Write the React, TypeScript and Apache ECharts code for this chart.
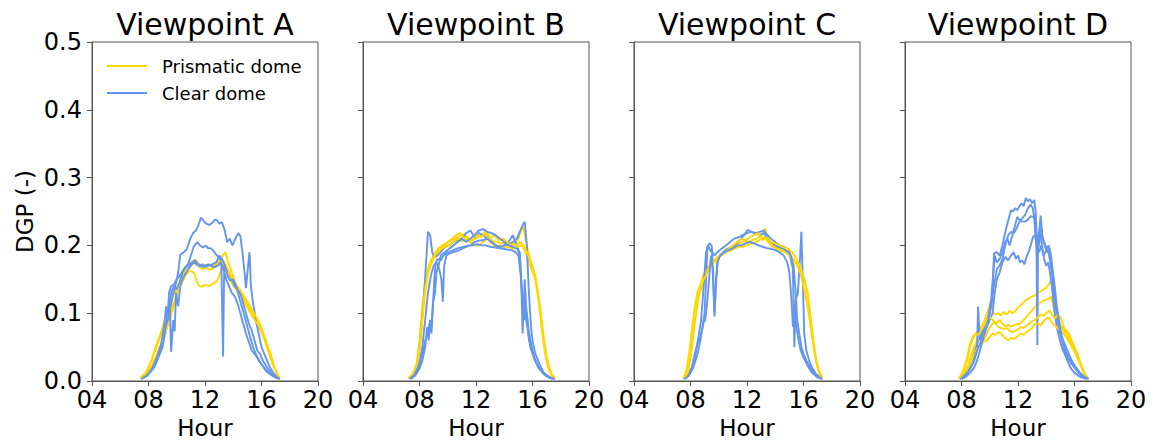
import React, { useEffect, useRef } from "react";
import * as echarts from "echarts";

type Pt = [number, number];

// ---- Panel titles and tick labels ----
const panelTitles = ["Viewpoint A", "Viewpoint B", "Viewpoint C", "Viewpoint D"];
const hourTicks = [4, 8, 12, 16, 20];
const dgpTicks = [0, 0.1, 0.2, 0.3, 0.4, 0.5];
const prismName = "Prismatic dome";
const clearName = "Clear dome";

// ---- Viewpoint A: [hour, DGP] ----
const aPrism1: Pt[] = [[7.4,0.004],[7.8,0.012],[8.2,0.03],[8.5,0.05],[8.9,0.072],[9.2,0.095],[9.5,0.112],[9.8,0.128],[10.1,0.141],[10.4,0.156],[10.7,0.17],[11.0,0.175],[11.3,0.179],[11.6,0.172],[11.9,0.17],[12.2,0.172],[12.5,0.168],[12.8,0.172],[13.05,0.178],[13.25,0.185],[13.45,0.19],[13.6,0.178],[13.9,0.16],[14.2,0.142],[14.5,0.13],[14.8,0.12],[15.1,0.108],[15.4,0.097],[15.7,0.085],[16.1,0.068],[16.35,0.055],[16.6,0.043],[16.85,0.025],[17.1,0.009],[17.3,0.004]];
const aPrism2: Pt[] = [[7.5,0.005],[7.9,0.015],[8.3,0.035],[8.7,0.058],[9.1,0.08],[9.4,0.095],[9.7,0.11],[10.0,0.128],[10.3,0.142],[10.6,0.155],[10.9,0.163],[11.2,0.16],[11.4,0.148],[11.6,0.14],[11.8,0.139],[12.0,0.142],[12.3,0.14],[12.6,0.144],[12.85,0.147],[13.05,0.158],[13.3,0.172],[13.5,0.162],[13.8,0.148],[14.1,0.138],[14.4,0.13],[14.7,0.12],[15.0,0.108],[15.3,0.097],[15.6,0.088],[15.9,0.078],[16.2,0.062],[16.5,0.042],[16.8,0.024],[17.1,0.01],[17.3,0.004]];
const aPrism3: Pt[] = [[7.5,0.004],[7.9,0.01],[8.3,0.025],[8.7,0.045],[9.1,0.065],[9.5,0.09],[9.8,0.112],[10.1,0.133],[10.4,0.15],[10.7,0.162],[11.0,0.17],[11.3,0.176],[11.5,0.17],[11.8,0.165],[12.1,0.167],[12.4,0.164],[12.7,0.168],[13.0,0.172],[13.3,0.178],[13.6,0.165],[13.9,0.152],[14.2,0.142],[14.5,0.134],[14.8,0.124],[15.1,0.114],[15.4,0.102],[15.7,0.092],[16.0,0.078],[16.3,0.06],[16.6,0.04],[16.9,0.02],[17.2,0.007]];
const aClear1: Pt[] = [[7.5,0.004],[7.9,0.01],[8.3,0.022],[8.7,0.04],[9.0,0.06],[9.3,0.08],[9.5,0.1],[9.7,0.125],[9.9,0.14],[10.1,0.16],[10.25,0.186],[10.5,0.19],[10.7,0.194],[10.96,0.21],[11.15,0.218],[11.35,0.222],[11.5,0.228],[11.72,0.241],[11.9,0.236],[12.1,0.232],[12.3,0.23],[12.5,0.233],[12.7,0.238],[12.85,0.237],[13.0,0.232],[13.2,0.234],[13.4,0.222],[13.56,0.205],[13.75,0.21],[13.95,0.2],[14.15,0.21],[14.35,0.218],[14.5,0.214],[14.65,0.19],[14.8,0.16],[14.9,0.137],[15.05,0.17],[15.15,0.19],[15.25,0.14],[15.4,0.115],[15.6,0.09],[15.8,0.07],[16.0,0.05],[16.3,0.035],[16.6,0.02],[16.9,0.01],[17.2,0.004]];
const aClear2: Pt[] = [[7.5,0.004],[7.9,0.008],[8.3,0.018],[8.6,0.03],[8.9,0.05],[9.2,0.07],[9.4,0.1],[9.6,0.13],[9.8,0.14],[10.0,0.135],[10.2,0.145],[10.4,0.16],[10.6,0.168],[10.8,0.172],[11.0,0.185],[11.2,0.198],[11.45,0.205],[11.65,0.2],[11.85,0.197],[12.05,0.2],[12.2,0.196],[12.4,0.196],[12.6,0.192],[12.8,0.186],[13.0,0.182],[13.15,0.178],[13.28,0.036],[13.36,0.17],[13.5,0.165],[13.7,0.16],[13.9,0.15],[14.1,0.14],[14.3,0.135],[14.5,0.13],[14.7,0.115],[14.9,0.1],[15.1,0.085],[15.3,0.075],[15.5,0.06],[15.7,0.045],[15.9,0.04],[16.1,0.03],[16.4,0.02],[16.7,0.012],[17.0,0.006],[17.3,0.003]];
const aClear3: Pt[] = [[7.6,0.004],[8.0,0.01],[8.4,0.02],[8.7,0.035],[9.0,0.05],[9.2,0.08],[9.4,0.1],[9.5,0.12],[9.6,0.043],[9.75,0.09],[9.85,0.073],[9.95,0.13],[10.1,0.11],[10.25,0.14],[10.4,0.15],[10.6,0.158],[10.8,0.165],[11.0,0.17],[11.2,0.175],[11.4,0.172],[11.6,0.17],[11.8,0.172],[12.0,0.17],[12.3,0.172],[12.6,0.168],[12.9,0.17],[13.1,0.175],[13.3,0.165],[13.5,0.15],[13.7,0.14],[13.9,0.13],[14.1,0.125],[14.3,0.115],[14.5,0.1],[14.7,0.085],[14.9,0.07],[15.1,0.058],[15.3,0.045],[15.5,0.04],[15.7,0.035],[16.0,0.025],[16.3,0.015],[16.6,0.01],[17.0,0.005],[17.3,0.003]];
const aClear4: Pt[] = [[7.5,0.003],[7.9,0.008],[8.3,0.02],[8.6,0.035],[8.9,0.055],[9.1,0.08],[9.25,0.11],[9.35,0.09],[9.45,0.13],[9.6,0.14],[9.8,0.142],[10.0,0.15],[10.2,0.155],[10.5,0.165],[10.8,0.17],[11.1,0.175],[11.3,0.178],[11.6,0.17],[11.9,0.168],[12.2,0.17],[12.5,0.172],[12.8,0.175],[13.0,0.185],[13.2,0.18],[13.4,0.17],[13.6,0.155],[13.8,0.148],[14.0,0.15],[14.2,0.14],[14.4,0.125],[14.6,0.11],[14.8,0.095],[15.0,0.08],[15.2,0.065],[15.4,0.05],[15.6,0.04],[15.8,0.03],[16.1,0.022],[16.4,0.015],[16.8,0.008],[17.2,0.004]];

// ---- Viewpoint B ----
const bPrism1: Pt[] = [[7.2,0.004],[7.5,0.01],[7.8,0.025],[8.0,0.06],[8.2,0.11],[8.4,0.145],[8.6,0.165],[8.8,0.178],[9.0,0.185],[9.3,0.195],[9.6,0.2],[9.9,0.203],[10.2,0.207],[10.5,0.21],[10.8,0.213],[11.1,0.216],[11.4,0.212],[11.7,0.208],[12.0,0.21],[12.3,0.214],[12.6,0.218],[12.9,0.212],[13.2,0.206],[13.5,0.205],[13.8,0.203],[14.1,0.205],[14.4,0.2],[14.7,0.203],[15.0,0.21],[15.2,0.222],[15.35,0.228],[15.5,0.21],[15.7,0.19],[15.9,0.175],[16.1,0.16],[16.3,0.14],[16.5,0.11],[16.7,0.07],[16.9,0.04],[17.1,0.02],[17.3,0.01],[17.5,0.004]];
const bPrism2: Pt[] = [[7.3,0.004],[7.6,0.012],[7.9,0.03],[8.1,0.07],[8.3,0.12],[8.5,0.15],[8.7,0.168],[8.9,0.18],[9.2,0.19],[9.5,0.195],[9.8,0.198],[10.1,0.2],[10.4,0.205],[10.7,0.21],[11.0,0.206],[11.3,0.212],[11.6,0.205],[11.9,0.2],[12.2,0.2],[12.5,0.205],[12.8,0.21],[13.1,0.203],[13.4,0.198],[13.7,0.2],[14.0,0.197],[14.3,0.198],[14.6,0.195],[14.9,0.198],[15.2,0.2],[15.4,0.195],[15.6,0.185],[15.8,0.172],[16.0,0.162],[16.2,0.15],[16.4,0.125],[16.6,0.09],[16.8,0.055],[17.0,0.03],[17.2,0.015],[17.5,0.005]];
const bPrism3: Pt[] = [[7.3,0.004],[7.7,0.015],[8.0,0.045],[8.2,0.09],[8.4,0.13],[8.6,0.158],[8.8,0.172],[9.1,0.185],[9.4,0.192],[9.7,0.198],[10.0,0.205],[10.3,0.21],[10.6,0.215],[10.9,0.218],[11.2,0.21],[11.5,0.205],[11.8,0.212],[12.1,0.216],[12.4,0.212],[12.7,0.222],[13.0,0.21],[13.3,0.215],[13.6,0.208],[13.9,0.21],[14.2,0.205],[14.5,0.2],[14.8,0.2],[15.1,0.205],[15.4,0.2],[15.6,0.19],[15.8,0.18],[16.0,0.168],[16.2,0.155],[16.4,0.13],[16.6,0.1],[16.8,0.065],[17.0,0.035],[17.3,0.012],[17.6,0.004]];
const bClear1: Pt[] = [[7.3,0.004],[7.6,0.01],[7.9,0.03],[8.1,0.07],[8.3,0.12],[8.45,0.17],[8.6,0.22],[8.75,0.215],[8.9,0.19],[9.05,0.182],[9.25,0.185],[9.5,0.19],[9.8,0.198],[10.1,0.2],[10.4,0.205],[10.7,0.208],[11.0,0.21],[11.3,0.218],[11.6,0.222],[11.9,0.212],[12.2,0.218],[12.5,0.215],[12.8,0.21],[13.1,0.205],[13.4,0.2],[13.7,0.198],[14.0,0.2],[14.3,0.205],[14.6,0.215],[14.9,0.2],[15.1,0.185],[15.25,0.13],[15.35,0.095],[15.45,0.15],[15.55,0.11],[15.7,0.08],[15.85,0.06],[16.0,0.045],[16.2,0.03],[16.5,0.018],[16.9,0.01],[17.3,0.005]];
const bClear2: Pt[] = [[7.4,0.004],[7.7,0.01],[8.0,0.025],[8.2,0.05],[8.4,0.09],[8.6,0.13],[8.8,0.155],[9.0,0.17],[9.2,0.175],[9.4,0.165],[9.55,0.15],[9.65,0.117],[9.75,0.17],[9.9,0.185],[10.1,0.188],[10.4,0.19],[10.7,0.192],[11.0,0.195],[11.3,0.198],[11.6,0.2],[11.9,0.205],[12.2,0.207],[12.5,0.208],[12.8,0.21],[13.1,0.205],[13.4,0.2],[13.7,0.198],[14.0,0.2],[14.3,0.202],[14.6,0.205],[14.9,0.21],[15.1,0.22],[15.3,0.23],[15.45,0.235],[15.6,0.2],[15.7,0.15],[15.8,0.11],[15.9,0.08],[16.0,0.06],[16.2,0.04],[16.5,0.025],[16.8,0.012],[17.2,0.005],[17.6,0.003]];
const bClear3: Pt[] = [[7.4,0.003],[7.7,0.008],[8.0,0.018],[8.2,0.03],[8.4,0.05],[8.55,0.08],[8.65,0.06],[8.75,0.09],[8.85,0.07],[8.95,0.11],[9.05,0.15],[9.15,0.175],[9.3,0.18],[9.5,0.178],[9.7,0.185],[10.0,0.19],[10.3,0.192],[10.6,0.195],[10.9,0.197],[11.2,0.198],[11.5,0.2],[11.8,0.2],[12.1,0.202],[12.4,0.2],[12.7,0.2],[13.0,0.198],[13.3,0.197],[13.6,0.196],[13.9,0.195],[14.2,0.194],[14.5,0.193],[14.8,0.19],[15.0,0.185],[15.15,0.16],[15.3,0.12],[15.45,0.09],[15.6,0.1],[15.75,0.06],[15.9,0.05],[16.1,0.035],[16.4,0.02],[16.8,0.01],[17.2,0.005],[17.5,0.003]];
const bClear4: Pt[] = [[7.3,0.003],[7.6,0.008],[7.9,0.02],[8.2,0.04],[8.4,0.06],[8.6,0.07],[8.75,0.09],[8.85,0.08],[8.95,0.115],[9.1,0.13],[9.2,0.16],[9.35,0.17],[9.5,0.185],[9.8,0.19],[10.1,0.195],[10.4,0.2],[10.7,0.205],[11.0,0.21],[11.3,0.205],[11.6,0.21],[11.9,0.215],[12.2,0.222],[12.5,0.224],[12.8,0.22],[13.1,0.218],[13.4,0.215],[13.7,0.21],[14.0,0.205],[14.3,0.2],[14.6,0.198],[14.9,0.195],[15.1,0.19],[15.2,0.15],[15.3,0.07],[15.4,0.12],[15.55,0.09],[15.7,0.07],[15.85,0.05],[16.0,0.04],[16.3,0.025],[16.6,0.015],[17.0,0.007],[17.4,0.003]];

// ---- Viewpoint C ----
const cPrism1: Pt[] = [[7.5,0.004],[7.7,0.015],[7.9,0.04],[8.1,0.075],[8.3,0.11],[8.5,0.132],[8.7,0.142],[8.9,0.155],[9.1,0.165],[9.4,0.172],[9.7,0.178],[10.0,0.184],[10.3,0.188],[10.6,0.193],[10.9,0.197],[11.2,0.2],[11.5,0.203],[11.8,0.207],[12.1,0.205],[12.4,0.208],[12.7,0.21],[13.0,0.215],[13.2,0.22],[13.3,0.225],[13.45,0.21],[13.7,0.2],[14.0,0.198],[14.3,0.196],[14.6,0.193],[14.9,0.19],[15.2,0.182],[15.5,0.174],[15.7,0.165],[15.9,0.155],[16.1,0.145],[16.3,0.13],[16.5,0.095],[16.7,0.06],[16.9,0.03],[17.1,0.015],[17.35,0.004]];
const cPrism2: Pt[] = [[7.5,0.004],[7.75,0.012],[8.0,0.035],[8.2,0.07],[8.4,0.1],[8.6,0.125],[8.8,0.14],[9.0,0.155],[9.3,0.168],[9.6,0.175],[9.9,0.182],[10.2,0.185],[10.5,0.19],[10.8,0.192],[11.1,0.195],[11.4,0.198],[11.7,0.198],[12.0,0.2],[12.3,0.202],[12.6,0.205],[12.9,0.208],[13.2,0.212],[13.5,0.205],[13.8,0.198],[14.1,0.195],[14.4,0.192],[14.7,0.19],[15.0,0.185],[15.3,0.178],[15.6,0.168],[15.8,0.158],[16.0,0.14],[16.2,0.12],[16.4,0.095],[16.6,0.065],[16.8,0.04],[17.0,0.02],[17.25,0.006]];
const cPrism3: Pt[] = [[7.6,0.004],[7.85,0.015],[8.1,0.05],[8.3,0.09],[8.5,0.12],[8.7,0.135],[8.9,0.148],[9.2,0.16],[9.5,0.17],[9.8,0.178],[10.1,0.185],[10.4,0.19],[10.7,0.195],[11.0,0.2],[11.3,0.205],[11.6,0.21],[11.9,0.207],[12.2,0.212],[12.5,0.215],[12.8,0.218],[13.1,0.208],[13.4,0.212],[13.7,0.205],[14.0,0.203],[14.3,0.2],[14.6,0.197],[14.9,0.195],[15.2,0.19],[15.5,0.18],[15.7,0.172],[15.9,0.16],[16.1,0.148],[16.3,0.125],[16.5,0.09],[16.7,0.055],[16.9,0.028],[17.1,0.012],[17.35,0.004]];
const cClear1: Pt[] = [[7.5,0.003],[7.8,0.008],[8.1,0.02],[8.3,0.04],[8.5,0.055],[8.7,0.065],[8.85,0.08],[9.0,0.1],[9.1,0.15],[9.2,0.198],[9.35,0.203],[9.5,0.2],[9.6,0.16],[9.7,0.095],[9.8,0.15],[9.95,0.18],[10.1,0.185],[10.3,0.19],[10.6,0.195],[10.9,0.198],[11.2,0.202],[11.5,0.208],[11.8,0.215],[12.05,0.223],[12.3,0.22],[12.6,0.218],[12.9,0.215],[13.2,0.218],[13.4,0.212],[13.7,0.205],[14.0,0.2],[14.3,0.197],[14.6,0.195],[14.9,0.19],[15.1,0.18],[15.25,0.165],[15.35,0.05],[15.45,0.12],[15.6,0.13],[15.75,0.18],[15.85,0.22],[15.95,0.15],[16.05,0.07],[16.2,0.045],[16.4,0.03],[16.6,0.02],[16.9,0.01],[17.3,0.004]];
const cClear2: Pt[] = [[7.6,0.003],[7.9,0.01],[8.2,0.025],[8.4,0.045],[8.6,0.07],[8.75,0.09],[8.9,0.13],[9.0,0.16],[9.1,0.19],[9.25,0.2],[9.4,0.192],[9.55,0.19],[9.7,0.185],[9.9,0.19],[10.2,0.195],[10.5,0.2],[10.8,0.205],[11.1,0.21],[11.4,0.212],[11.7,0.215],[12.0,0.218],[12.3,0.22],[12.6,0.218],[12.9,0.22],[13.2,0.222],[13.45,0.215],[13.7,0.21],[14.0,0.205],[14.3,0.2],[14.6,0.198],[14.9,0.195],[15.1,0.185],[15.3,0.17],[15.45,0.13],[15.55,0.09],[15.7,0.07],[15.85,0.05],[16.0,0.04],[16.2,0.03],[16.5,0.02],[16.8,0.01],[17.2,0.004]];
const cClear3: Pt[] = [[7.6,0.003],[7.9,0.008],[8.2,0.02],[8.5,0.04],[8.7,0.06],[8.9,0.085],[9.05,0.09],[9.2,0.12],[9.35,0.16],[9.45,0.185],[9.55,0.17],[9.7,0.1],[9.8,0.14],[9.9,0.175],[10.1,0.185],[10.4,0.19],[10.7,0.193],[11.0,0.196],[11.3,0.2],[11.6,0.2],[11.9,0.203],[12.2,0.205],[12.5,0.203],[12.8,0.2],[13.1,0.198],[13.4,0.196],[13.7,0.195],[14.0,0.193],[14.3,0.19],[14.6,0.185],[14.85,0.175],[15.0,0.16],[15.15,0.12],[15.25,0.08],[15.35,0.11],[15.5,0.08],[15.65,0.06],[15.8,0.045],[16.0,0.035],[16.3,0.022],[16.6,0.012],[17.0,0.005],[17.35,0.003]];

// ---- Viewpoint D ----
const dPrism1: Pt[] = [[7.85,0.004],[8.1,0.015],[8.4,0.03],[8.6,0.05],[8.8,0.062],[9.0,0.07],[9.2,0.075],[9.4,0.08],[9.6,0.088],[9.8,0.1],[10.0,0.112],[10.1,0.119],[10.25,0.1],[10.4,0.098],[10.6,0.1],[10.8,0.097],[11.0,0.102],[11.2,0.098],[11.4,0.104],[11.6,0.1],[11.8,0.103],[12.0,0.108],[12.2,0.112],[12.4,0.116],[12.6,0.12],[12.8,0.122],[13.0,0.125],[13.2,0.126],[13.4,0.13],[13.6,0.132],[13.8,0.135],[14.0,0.138],[14.2,0.143],[14.36,0.149],[14.5,0.13],[14.65,0.105],[14.8,0.088],[15.0,0.082],[15.2,0.078],[15.4,0.075],[15.6,0.07],[15.8,0.06],[16.0,0.05],[16.2,0.04],[16.4,0.028],[16.6,0.016],[16.8,0.008],[17.0,0.003]];
const dPrism2: Pt[] = [[7.9,0.003],[8.2,0.012],[8.5,0.025],[8.7,0.04],[8.9,0.05],[9.1,0.06],[9.3,0.062],[9.5,0.06],[9.7,0.065],[9.9,0.075],[10.1,0.082],[10.3,0.088],[10.5,0.085],[10.7,0.09],[10.9,0.085],[11.1,0.08],[11.3,0.083],[11.5,0.08],[11.7,0.082],[11.9,0.084],[12.1,0.084],[12.3,0.088],[12.5,0.092],[12.7,0.097],[12.9,0.102],[13.2,0.109],[13.4,0.112],[13.6,0.116],[13.8,0.118],[14.0,0.12],[14.2,0.122],[14.36,0.124],[14.5,0.11],[14.7,0.095],[14.9,0.085],[15.1,0.078],[15.3,0.072],[15.5,0.068],[15.7,0.06],[15.9,0.05],[16.1,0.04],[16.3,0.03],[16.5,0.02],[16.7,0.01],[16.9,0.004]];
const dPrism3: Pt[] = [[7.9,0.003],[8.2,0.01],[8.5,0.02],[8.8,0.035],[9.0,0.045],[9.2,0.05],[9.4,0.055],[9.6,0.058],[9.8,0.06],[10.0,0.065],[10.2,0.07],[10.4,0.068],[10.6,0.072],[10.8,0.07],[11.0,0.065],[11.3,0.06],[11.5,0.064],[11.7,0.062],[11.9,0.065],[12.2,0.07],[12.4,0.068],[12.6,0.072],[12.8,0.075],[13.0,0.078],[13.2,0.084],[13.4,0.085],[13.6,0.082],[13.8,0.088],[14.1,0.094],[14.3,0.09],[14.5,0.084],[14.7,0.08],[14.9,0.076],[15.1,0.072],[15.4,0.065],[15.6,0.058],[15.8,0.05],[16.1,0.04],[16.3,0.03],[16.5,0.02],[16.7,0.01],[16.9,0.003]];
const dPrism4: Pt[] = [[7.8,0.003],[8.1,0.012],[8.4,0.035],[8.6,0.055],[8.8,0.065],[9.0,0.07],[9.2,0.068],[9.4,0.075],[9.6,0.082],[9.8,0.09],[10.0,0.095],[10.2,0.09],[10.4,0.085],[10.6,0.08],[10.8,0.078],[11.0,0.076],[11.2,0.078],[11.4,0.074],[11.6,0.072],[11.8,0.074],[12.0,0.076],[12.2,0.08],[12.4,0.078],[12.6,0.082],[12.8,0.085],[13.0,0.088],[13.2,0.09],[13.4,0.094],[13.6,0.098],[13.8,0.096],[14.0,0.1],[14.2,0.104],[14.4,0.098],[14.6,0.092],[14.8,0.098],[15.0,0.094],[15.2,0.082],[15.4,0.07],[15.6,0.062],[15.8,0.055],[16.0,0.048],[16.2,0.04],[16.4,0.028],[16.6,0.016],[16.8,0.006],[17.0,0.003]];
const dClear1: Pt[] = [[7.9,0.004],[8.2,0.01],[8.5,0.02],[8.8,0.035],[9.0,0.05],[9.2,0.06],[9.4,0.07],[9.6,0.08],[9.8,0.09],[10.0,0.1],[10.2,0.13],[10.3,0.188],[10.5,0.19],[10.7,0.185],[10.9,0.2],[11.05,0.215],[11.2,0.228],[11.35,0.24],[11.5,0.252],[11.65,0.25],[11.8,0.255],[11.95,0.252],[12.1,0.258],[12.25,0.262],[12.4,0.258],[12.55,0.27],[12.7,0.265],[12.85,0.268],[13.0,0.262],[13.15,0.267],[13.25,0.25],[13.35,0.2],[13.5,0.22],[13.6,0.244],[13.75,0.21],[13.9,0.2],[14.05,0.19],[14.2,0.195],[14.35,0.17],[14.5,0.15],[14.65,0.115],[14.8,0.09],[14.95,0.075],[15.1,0.06],[15.3,0.045],[15.5,0.035],[15.8,0.025],[16.1,0.018],[16.4,0.01],[16.7,0.005],[16.9,0.003]];
const dClear2: Pt[] = [[8.0,0.003],[8.3,0.008],[8.6,0.018],[8.9,0.03],[9.1,0.045],[9.17,0.11],[9.3,0.06],[9.5,0.07],[9.7,0.085],[9.9,0.095],[10.1,0.12],[10.25,0.16],[10.35,0.185],[10.5,0.175],[10.7,0.18],[10.9,0.19],[11.1,0.205],[11.25,0.21],[11.4,0.2],[11.6,0.215],[11.8,0.23],[11.95,0.242],[12.1,0.238],[12.3,0.235],[12.5,0.235],[12.7,0.238],[12.9,0.243],[13.1,0.242],[13.25,0.235],[13.32,0.18],[13.37,0.053],[13.42,0.2],[13.55,0.225],[13.7,0.2],[13.85,0.18],[14.0,0.17],[14.15,0.175],[14.3,0.155],[14.45,0.13],[14.6,0.1],[14.75,0.08],[14.9,0.065],[15.1,0.05],[15.4,0.035],[15.7,0.02],[16.0,0.012],[16.4,0.006],[16.8,0.003]];
const dClear3: Pt[] = [[7.9,0.003],[8.2,0.008],[8.5,0.015],[8.8,0.025],[9.0,0.04],[9.2,0.05],[9.4,0.06],[9.6,0.068],[9.8,0.08],[10.0,0.09],[10.2,0.1],[10.35,0.13],[10.5,0.15],[10.7,0.16],[10.9,0.175],[11.1,0.183],[11.3,0.178],[11.5,0.185],[11.7,0.19],[11.85,0.18],[12.0,0.185],[12.15,0.175],[12.3,0.178],[12.45,0.172],[12.6,0.183],[12.75,0.19],[12.9,0.2],[13.05,0.212],[13.2,0.215],[13.35,0.2],[13.5,0.19],[13.65,0.2],[13.8,0.185],[13.95,0.19],[14.1,0.195],[14.25,0.18],[14.4,0.16],[14.55,0.13],[14.7,0.105],[14.85,0.085],[15.0,0.07],[15.2,0.055],[15.4,0.042],[15.7,0.03],[16.0,0.02],[16.3,0.012],[16.6,0.006],[16.9,0.003]];
const dClear4: Pt[] = [[8.0,0.003],[8.3,0.006],[8.6,0.012],[8.9,0.02],[9.1,0.03],[9.3,0.045],[9.5,0.06],[9.7,0.075],[9.9,0.09],[10.1,0.11],[10.3,0.14],[10.5,0.165],[10.7,0.17],[10.9,0.18],[11.1,0.2],[11.3,0.215],[11.5,0.22],[11.7,0.218],[11.9,0.225],[12.1,0.235],[12.3,0.24],[12.5,0.245],[12.7,0.255],[12.9,0.26],[13.05,0.255],[13.15,0.24],[13.25,0.21],[13.4,0.19],[13.55,0.21],[13.7,0.215],[13.85,0.205],[14.0,0.195],[14.15,0.2],[14.3,0.19],[14.45,0.165],[14.6,0.14],[14.75,0.11],[14.9,0.09],[15.05,0.07],[15.2,0.06],[15.4,0.05],[15.6,0.04],[15.8,0.03],[16.1,0.02],[16.4,0.012],[16.7,0.006],[17.0,0.003]];

const panelPrism: Pt[][][] = [
  [aPrism1, aPrism2, aPrism3],
  [bPrism1, bPrism2, bPrism3],
  [cPrism1, cPrism2, cPrism3],
  [dPrism1, dPrism2, dPrism3, dPrism4],
];
const panelClear: Pt[][][] = [
  [aClear1, aClear2, aClear3, aClear4],
  [bClear1, bClear2, bClear3, bClear4],
  [cClear1, cClear2, cClear3],
  [dClear1, dClear2, dClear3, dClear4],
];

const GOLD = "#ffd700";
const BLUE = "#6495ed";
const FONT = "DejaVu Sans";
const SPINE = "#555555";

const PANEL_LEFT = [92, 363, 634, 905];
const PANEL_W = 226;
const PANEL_TOP = 42;
const PANEL_H = 339;

function buildOption(): echarts.EChartsCoreOption {
  // Fixed panel rectangles; outerBoundsMode "none" stops the grid from shrinking to fit axis names
  const grid = PANEL_LEFT.map((left) => ({
    left,
    top: PANEL_TOP,
    width: PANEL_W,
    height: PANEL_H,
    outerBoundsMode: "none",
    containLabel: false,
    show: true,
    borderColor: SPINE,
    borderWidth: 1,
    backgroundColor: "transparent",
  }));

  const xAxis = PANEL_LEFT.map((_, i) => ({
    type: "value",
    gridIndex: i,
    min: hourTicks[0],
    max: hourTicks[hourTicks.length - 1],
    interval: hourTicks[1] - hourTicks[0],
    name: "Hour",
    nameLocation: "middle",
    nameGap: 33,
    nameTextStyle: { fontFamily: FONT, fontSize: 23, lineHeight: 22, color: "#000" },
    axisLine: { show: true, lineStyle: { color: SPINE, width: 1 } },
    axisTick: { show: true, length: 5, lineStyle: { color: SPINE } },
    axisLabel: {
      margin: 7,
      fontFamily: FONT,
      fontSize: 24,
      color: "#000",
      formatter: (v: number) => String(v).padStart(2, "0"),
    },
    splitLine: { show: false },
  }));

  const yAxis = PANEL_LEFT.map((_, i) => ({
    type: "value",
    gridIndex: i,
    min: dgpTicks[0],
    max: dgpTicks[dgpTicks.length - 1],
    interval: 0.1,
    name: i === 0 ? "DGP (-)" : "",
    nameLocation: "middle",
    nameGap: 56,
    nameTextStyle: { fontFamily: FONT, fontSize: 23, color: "#000" },
    axisLine: { show: true, lineStyle: { color: SPINE, width: 1 } },
    axisTick: { show: true, length: 5, lineStyle: { color: SPINE } },
    axisLabel: {
      show: i === 0,
      margin: 10,
      fontFamily: FONT,
      fontSize: 24,
      color: "#000",
      formatter: (v: number) => v.toFixed(1),
    },
    splitLine: { show: false },
  }));

  const series: any[] = [];
  for (let p = 0; p < 4; p++) {
    const prism = panelPrism[p];
    const clear = panelClear[p];
    const n = Math.max(prism.length, clear.length);
    for (let k = 0; k < n; k++) {
      if (prism[k]) {
        series.push({
          type: "line",
          name: prismName,
          xAxisIndex: p,
          yAxisIndex: p,
          data: prism[k],
          showSymbol: false,
          symbol: "none",
          lineStyle: { color: GOLD, width: 1.9 },
          itemStyle: { color: GOLD },
        });
      }
      if (clear[k]) {
        series.push({
          type: "line",
          name: clearName,
          xAxisIndex: p,
          yAxisIndex: p,
          data: clear[k],
          showSymbol: false,
          symbol: "none",
          lineStyle: { color: BLUE, width: 1.9 },
          itemStyle: { color: BLUE },
        });
      }
    }
  }

  const title = PANEL_LEFT.map((left, i) => ({
    text: panelTitles[i],
    left: left + PANEL_W / 2,
    top: 9,
    textAlign: "center",
    padding: 0,
    textStyle: { fontFamily: FONT, fontSize: 30, fontWeight: "normal", color: "#000" },
  }));

  return {
    animation: false,
    backgroundColor: "#fff",
    title,
    legend: {
      data: [prismName, clearName],
      orient: "vertical",
      left: 107,
      top: 57,
      padding: 0,
      itemGap: 9,
      itemWidth: 40,
      itemHeight: 2,
      icon: "rect",
      selectedMode: false,
      textStyle: { fontFamily: FONT, fontSize: 18, color: "#000", padding: [0, 0, 0, 10] },
    },
    grid,
    xAxis,
    yAxis,
    series,
  };
}

export default function App() {
  const ref = useRef<HTMLDivElement>(null);
  useEffect(() => {
    if (!ref.current) return;
    const chart = echarts.init(ref.current, undefined, { renderer: "svg" });
    chart.setOption(buildOption());
    return () => chart.dispose();
  }, []);
  return <div ref={ref} style={{ width: 1154, height: 440, position: "absolute", left: 0, top: 0 }} />;
}
